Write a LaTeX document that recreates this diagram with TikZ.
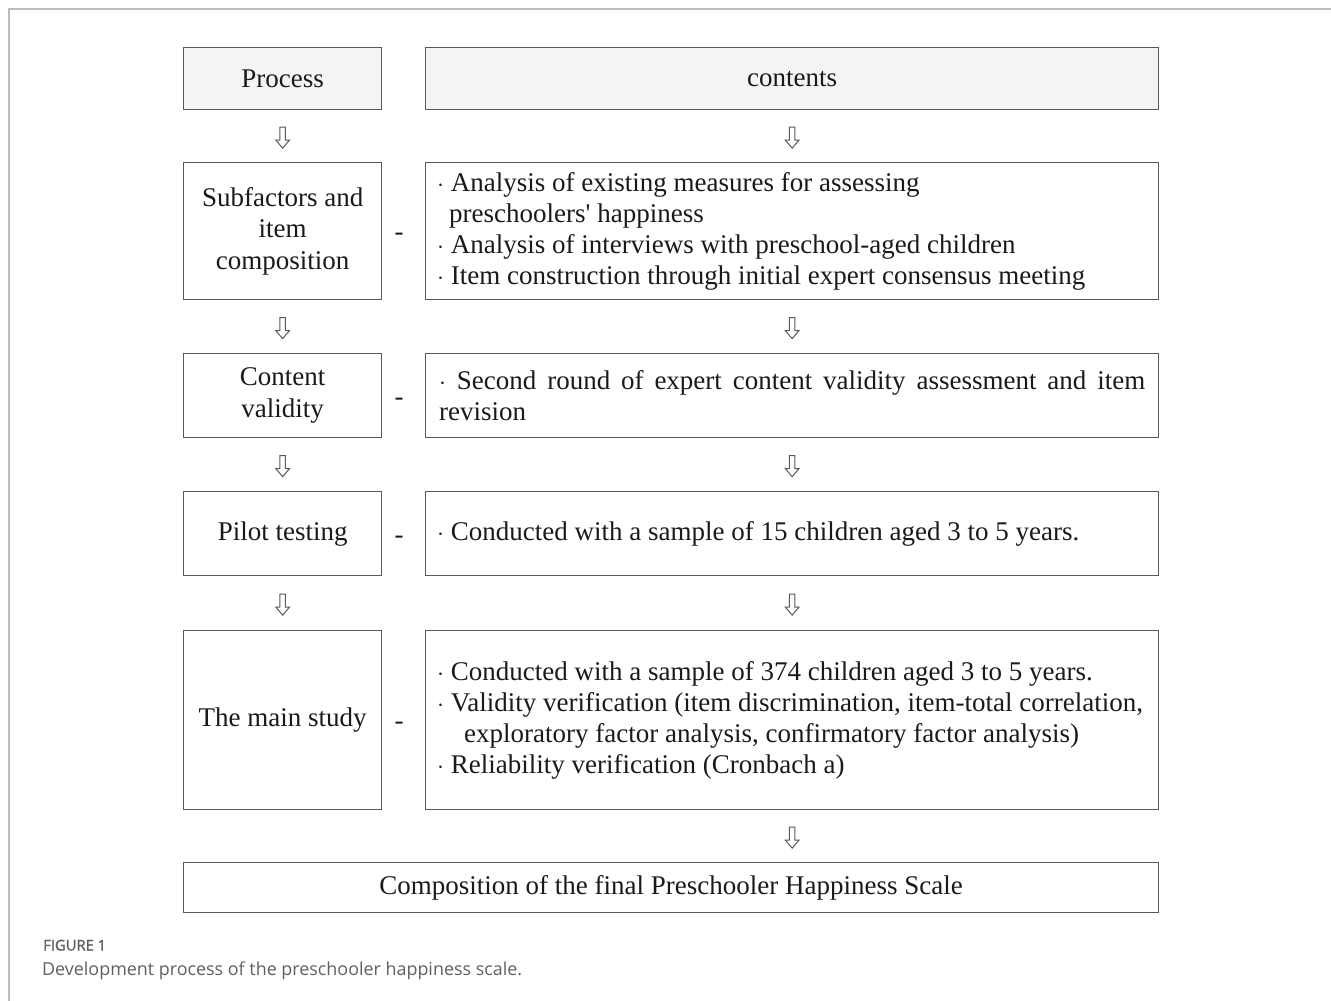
\documentclass[tikz,border=0pt]{standalone}
\usepackage{fontspec}
\setmainfont{Liberation Serif}
\newfontfamily\capfont{Open Sans}
\newfontfamily\capfontsb{Open Sans}[FakeBold=1.3]
\definecolor{boxline}{HTML}{5A5A5A}
\definecolor{headfill}{HTML}{F4F4F4}
\definecolor{framegray}{HTML}{BDBDBD}
\definecolor{capgray}{HTML}{606060}
\definecolor{txt}{HTML}{1A1A1A}
\begin{document}
\begin{tikzpicture}[x=1pt,y=-1pt,
  box/.style={draw=boxline, line width=1.3pt, inner sep=0pt, anchor=north west, fill=white},
  headbox/.style={box, fill=headfill},
  lbl/.style={font=\fontsize{27}{31.5}\selectfont, text=txt, align=center, inner sep=0pt},
  rtext/.style={font=\fontsize{27}{31}\selectfont, text=txt, align=left, inner sep=0pt, anchor=west},
  dashmark/.style={font=\fontsize{27}{31}\selectfont, text=txt, inner sep=0pt, anchor=base},
  hollowarrow/.pic={\draw[boxline, line width=1pt, line join=miter, fill=white]
     (-2.8,-10.5) -- (2.8,-10.5) -- (2.8,2.5) -- (6.8,2.5) -- (0,10.5) -- (-6.8,2.5) -- (-2.8,2.5) -- cycle;}
]
\useasboundingbox (0,0) rectangle (1331,1001);
\fill[white] (0,0) rectangle (1331,1001);
% outer frame (top and left)
\draw[framegray, line width=1.2pt] (1331,9) -- (9,9) -- (9,1001);

% header row
\node[headbox, minimum width=198, minimum height=62] (ph) at (183,47) {};
\node[headbox, minimum width=733, minimum height=62] (ch) at (425,47) {};
\node[lbl] at (ph.center) {Process};
\node[lbl] at (ch.center) {contents};

% row 1
\node[box, minimum width=198, minimum height=137] (p1) at (183,162) {};
\node[box, minimum width=733, minimum height=137] (c1) at (425,162) {};
\node[lbl] at (p1.center) {Subfactors and\\item\\composition};
\node[dashmark] (d1) at (399,240) {-};
\node[rtext] at (437,231) {$\cdot$ Analysis of existing measures for assessing\\\hspace*{12pt}preschoolers\textquotesingle\ happiness\\$\cdot$ Analysis of interviews with preschool-aged children\\$\cdot$ Item construction through initial expert consensus meeting};

% row 2
\node[box, minimum width=198, minimum height=84] (p2) at (183,353) {};
\node[box, minimum width=733, minimum height=84] (c2) at (425,353) {};
\node[lbl] at (p2.center) {Content\\validity};
\node[dashmark] (d2) at (399,405) {-};
\node[rtext, text width=706pt, align=justify] at (439,396) {\hyphenpenalty=10000\exhyphenpenalty=10000 $\cdot$ Second round of expert content validity assessment and item \mbox{revision}};

% row 3
\node[box, minimum width=198, minimum height=84] (p3) at (183,491) {};
\node[box, minimum width=733, minimum height=84] (c3) at (425,491) {};
\node[lbl] at (p3.center) {Pilot testing};
\node[dashmark] (d3) at (399,543) {-};
\node[rtext] at (437,534) {$\cdot$ Conducted with a sample of 15 children aged 3 to 5 years.};

% row 4
\node[box, minimum width=198, minimum height=179] (p4) at (183,630) {};
\node[box, minimum width=733, minimum height=179] (c4) at (425,630) {};
\node[lbl] at (p4.center) {The main study};
\node[dashmark] (d4) at (399,729) {-};
\node[rtext] at (437,720.5) {$\cdot$ Conducted with a sample of 374 children aged 3 to 5 years.\\$\cdot$ Validity verification (item discrimination, item-total correlation,\\\hspace*{27pt}exploratory factor analysis, confirmatory factor analysis)\\$\cdot$ Reliability verification (Cronbach a)};

% final box
\node[box, minimum width=975, minimum height=50] (fin) at (183,862) {};
\node[lbl] at (fin.center) {Composition of the final Preschooler Happiness Scale};

% arrows
\path (ph.south) -- (p1.north) coordinate[midway, yshift=-1.5pt] (a1);
\path (ch.south) -- (c1.north) coordinate[midway, yshift=-1.5pt] (b1);
\path (p1.south) -- (p2.north) coordinate[midway, yshift=-1.5pt] (a2);
\path (c1.south) -- (c2.north) coordinate[midway, yshift=-1.5pt] (b2);
\path (p2.south) -- (p3.north) coordinate[midway, yshift=-1.5pt] (a3);
\path (c2.south) -- (c3.north) coordinate[midway, yshift=-1.5pt] (b3);
\path (p3.south) -- (p4.north) coordinate[midway, yshift=-1.5pt] (a4);
\path (c3.south) -- (c4.north) coordinate[midway, yshift=-1.5pt] (b4);
\path (c4.south) -- (c4.south |- fin.north) coordinate[midway, yshift=-1.5pt] (b5);
\foreach \c in {a1,b1,a2,b2,a3,b3,a4,b4,b5} {\pic at (\c) {hollowarrow};}

% caption
\node[anchor=base west, inner sep=0pt, text=capgray, font=\capfontsb\fontsize{14.8}{17}\selectfont] (figlab) at (43,950.5) {FIGURE 1};
\node[anchor=base west, inner sep=0pt, text=capgray, font=\capfont\fontsize{17.9}{20}\selectfont] (figcap) at (42,975) {Development process of the preschooler happiness scale.};
\end{tikzpicture}
\end{document}
